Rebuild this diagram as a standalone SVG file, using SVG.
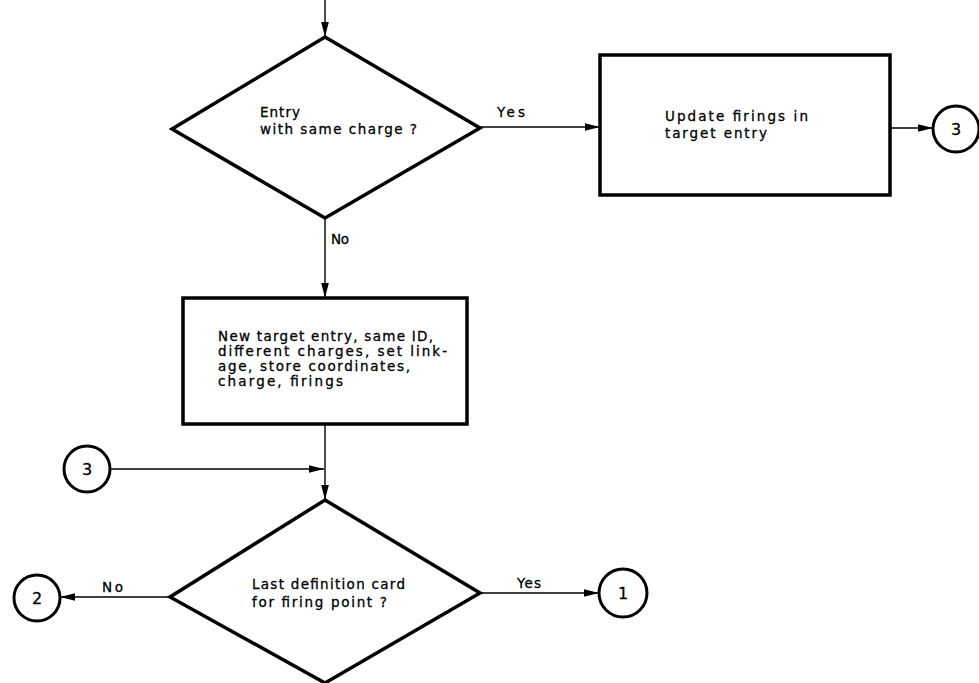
<svg xmlns="http://www.w3.org/2000/svg" width="979" height="683" viewBox="0 0 979 683">
  <style>
    .shape { fill: #fff; stroke: #000; stroke-width: 3.5; stroke-linejoin: miter; }
    .conn { fill: none; stroke: #000; stroke-width: 1.4; }
    .circ { fill: #fff; stroke: #000; stroke-width: 3; }
    text { font-family: "DejaVu Sans", "Liberation Sans", sans-serif; font-size: 13.5px; fill: #000; stroke: #000; stroke-width: 0.3; }
    .num { font-size: 16px; text-anchor: middle; }
  </style>
  <defs>
    <marker id="arrow" markerUnits="userSpaceOnUse" markerWidth="16" markerHeight="10" refX="15" refY="5" orient="auto">
      <path d="M0,1.2 L15,5 L0,8.8 Z" fill="#000"/>
    </marker>
  </defs>

  <rect width="979" height="683" fill="#fff"/>

  <g id="connectors">
    <line class="conn" x1="325" y1="0" x2="325" y2="37" marker-end="url(#arrow)"/>
    <line class="conn" x1="480" y1="127" x2="600" y2="127" marker-end="url(#arrow)"/>
    <line class="conn" x1="890" y1="128" x2="933" y2="128" marker-end="url(#arrow)"/>
    <line class="conn" x1="325" y1="218" x2="325" y2="298" marker-end="url(#arrow)"/>
    <line class="conn" x1="325" y1="424" x2="325" y2="500" marker-end="url(#arrow)"/>
    <line class="conn" x1="110" y1="469" x2="324" y2="469" marker-end="url(#arrow)"/>
    <line class="conn" x1="170" y1="597" x2="60" y2="597" marker-end="url(#arrow)"/>
    <line class="conn" x1="480" y1="593" x2="599" y2="593" marker-end="url(#arrow)"/>
    <text x="497" y="117" textLength="28" lengthAdjust="spacing">Yes</text>
    <text x="331" y="244" textLength="18" lengthAdjust="spacing">No</text>
    <text x="102" y="592" textLength="21" lengthAdjust="spacing">No</text>
    <text x="517" y="588" textLength="24" lengthAdjust="spacing">Yes</text>
  </g>

  <g id="same-charge">
    <polygon class="shape" points="325,37 480,128 325,218 172,129"/>
    <text x="260" y="117" textLength="40" lengthAdjust="spacing">Entry</text>
    <text x="260" y="134" textLength="157" lengthAdjust="spacing">with same charge ?</text>
  </g>

  <g id="update-firings">
    <rect class="shape" x="600" y="55" width="290" height="140"/>
    <text x="665" y="121" textLength="143" lengthAdjust="spacing">Update firings in</text>
    <text x="665" y="138" textLength="102" lengthAdjust="spacing">target entry</text>
  </g>

  <g id="connector-3-out">
    <circle class="circ" cx="956" cy="129" r="23"/>
    <text class="num" x="956" y="135">3</text>
  </g>

  <g id="new-entry">
    <rect class="shape" x="183" y="298" width="284" height="126"/>
    <text x="218" y="341" textLength="215" lengthAdjust="spacing">New target entry, same ID,</text>
    <text x="218" y="356" textLength="229" lengthAdjust="spacing">different charges, set link-</text>
    <text x="218" y="371" textLength="192" lengthAdjust="spacing">age, store coordinates,</text>
    <text x="218" y="386" textLength="125" lengthAdjust="spacing">charge, firings</text>
  </g>

  <g id="connector-3-in">
    <circle class="circ" cx="87" cy="469" r="23"/>
    <text class="num" x="87" y="475">3</text>
  </g>

  <g id="last-card">
    <polygon class="shape" points="325,500 480,593 325,683 170,597"/>
    <text x="252" y="589" textLength="153" lengthAdjust="spacing">Last definition card</text>
    <text x="252" y="607" textLength="135" lengthAdjust="spacing">for firing point ?</text>
  </g>

  <g id="connector-2">
    <circle class="circ" cx="37" cy="598" r="23"/>
    <text class="num" x="37" y="604">2</text>
  </g>

  <g id="connector-1">
    <circle class="circ" cx="623" cy="593" r="24"/>
    <text class="num" x="623" y="599">1</text>
  </g>
</svg>
